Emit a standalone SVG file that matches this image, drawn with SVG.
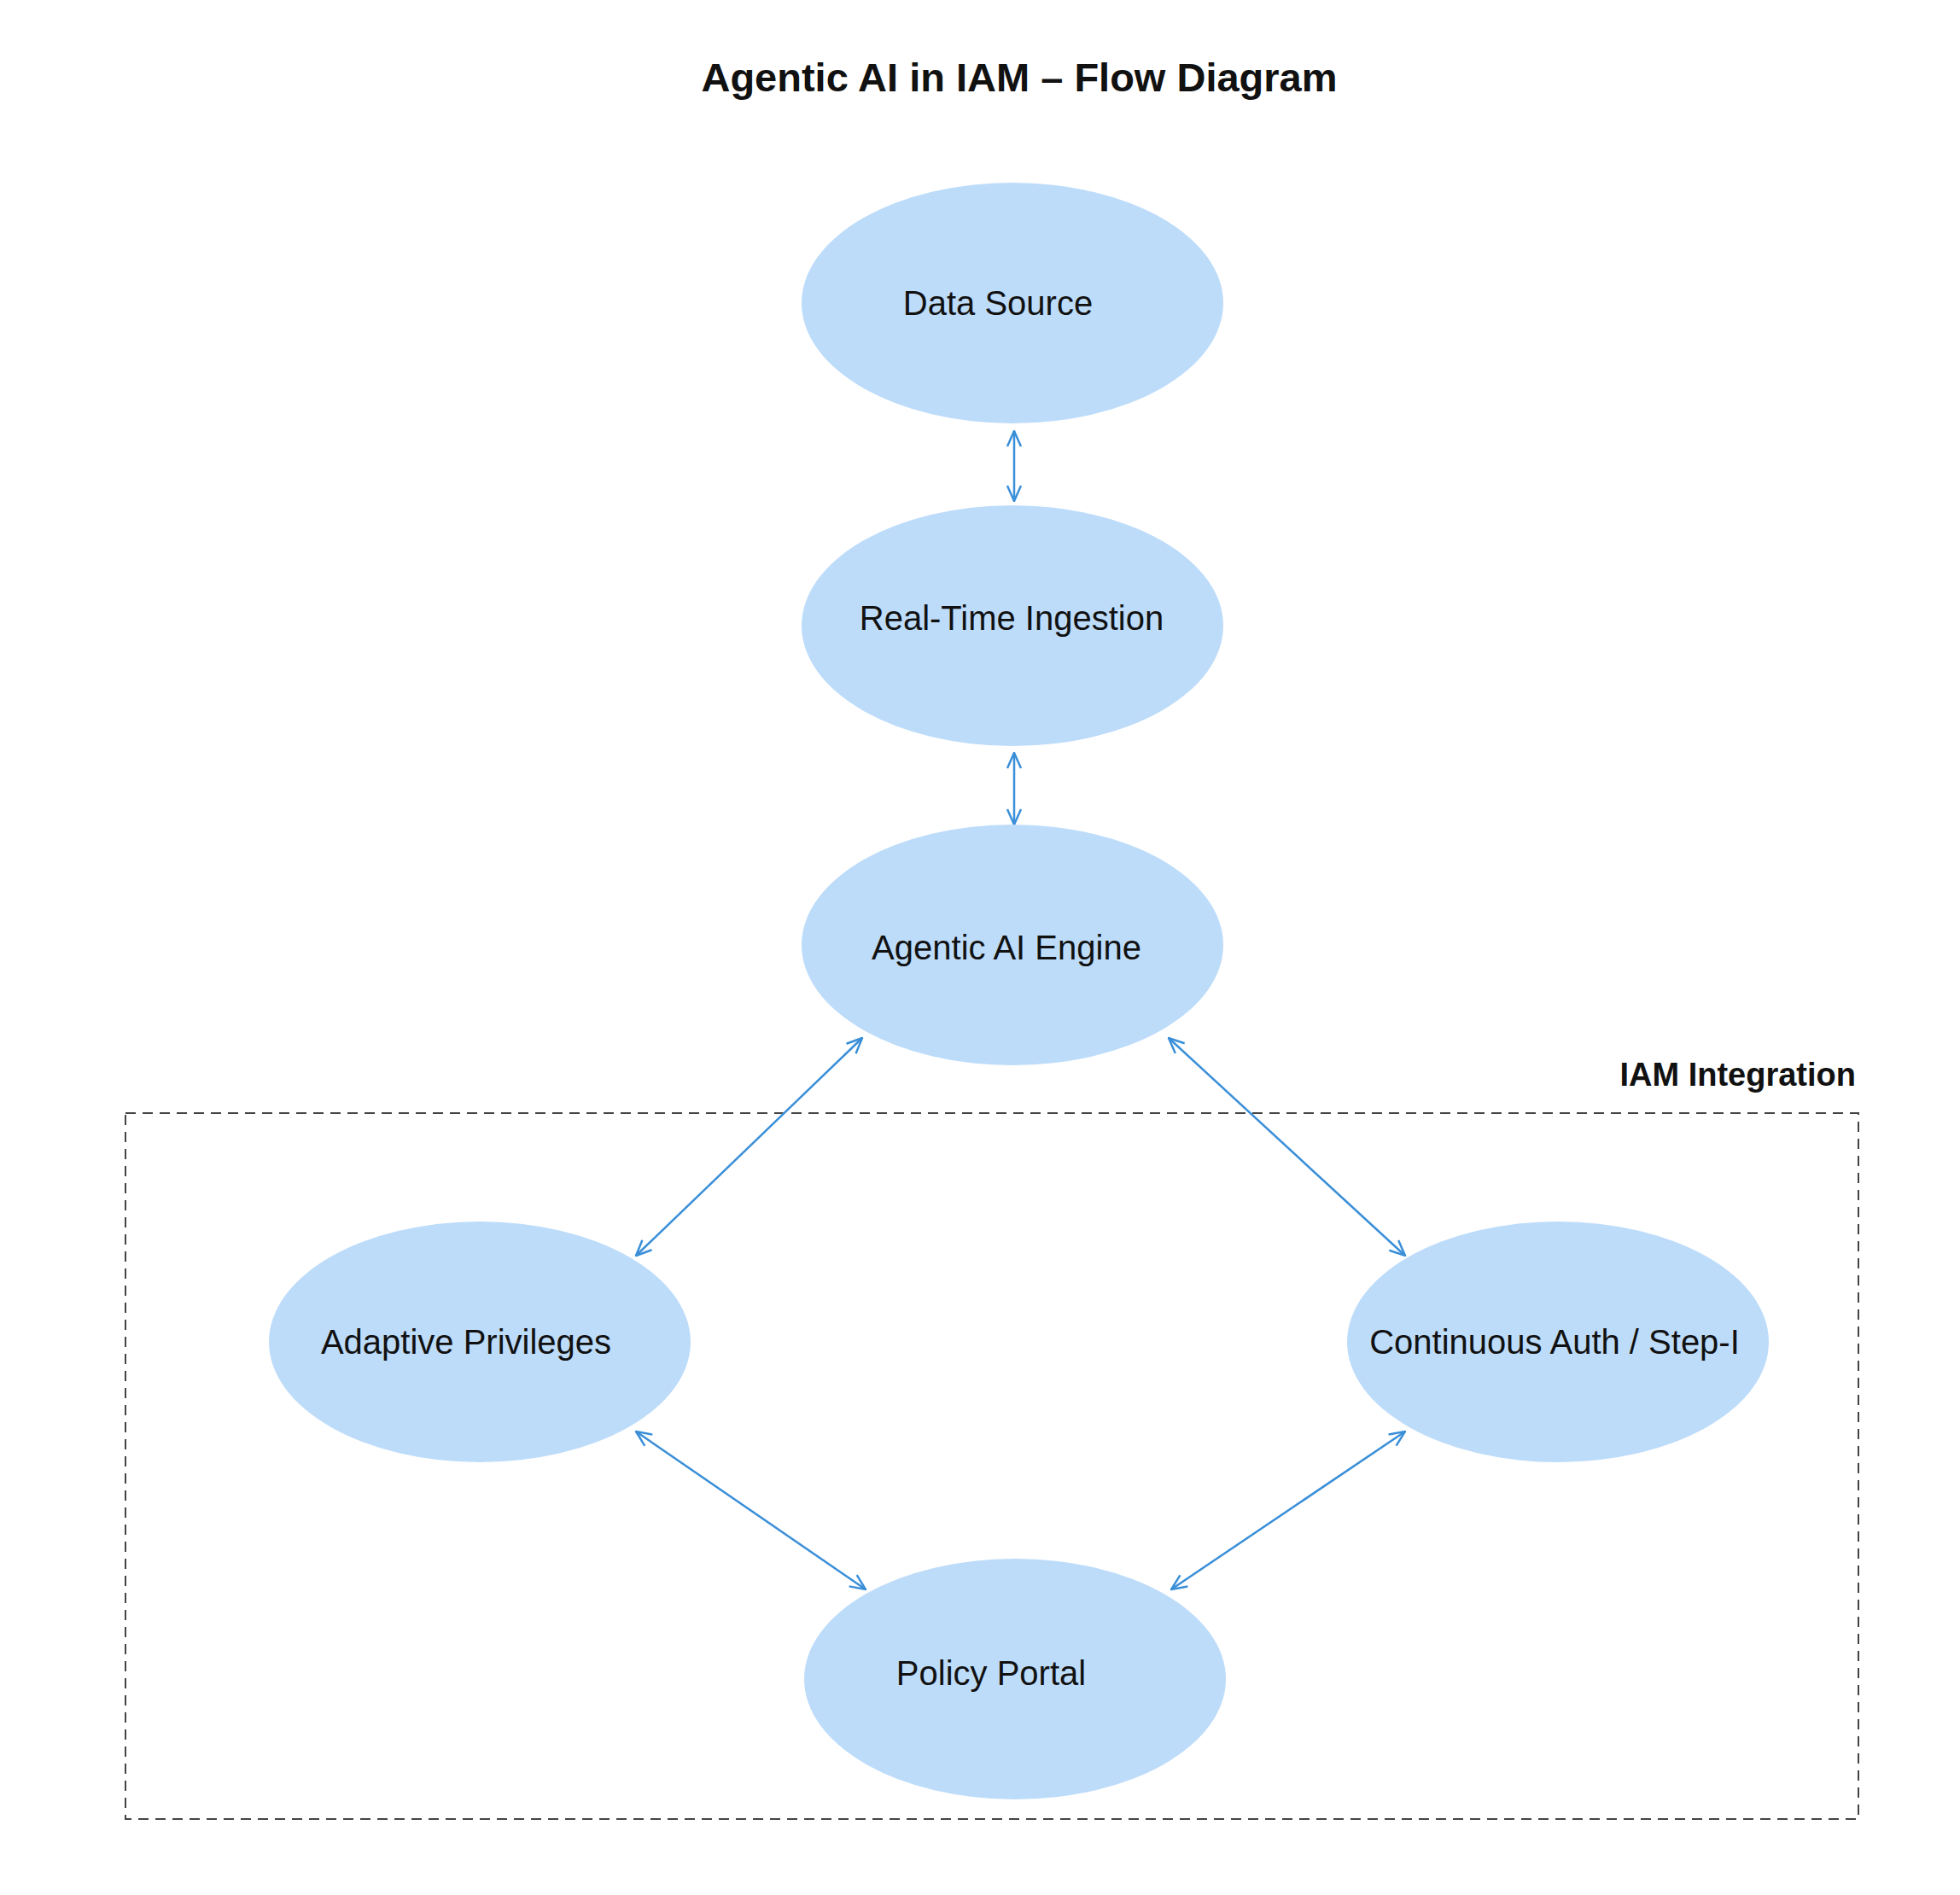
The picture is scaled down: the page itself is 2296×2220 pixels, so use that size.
<svg xmlns="http://www.w3.org/2000/svg" width="2296" height="2220" viewBox="0 0 2296 2220">
<style>
.n{fill:#bddcfa;stroke:none}
.t{font-family:"Liberation Sans",Arial,sans-serif;font-size:40px;fill:#111;text-anchor:middle}
.c{stroke:#3a8fd8;stroke-width:2.5;fill:none;marker-start:url(#a);marker-end:url(#a)}
</style>
<defs>
<marker id="a" viewBox="0 0 20 20" refX="19" refY="10" markerWidth="20" markerHeight="20" markerUnits="userSpaceOnUse" orient="auto-start-reverse">
<path d="M1,2 L19,10 L1,18" fill="none" stroke="#3a8fd8" stroke-width="2.5"/>
</marker>
</defs>
<rect width="2296" height="2220" fill="#fff"/>
<text x="1194" y="107" font-family="Liberation Sans,Arial,sans-serif" font-size="47" font-weight="bold" text-anchor="middle" fill="#111">Agentic AI in IAM – Flow Diagram</text>
<g id="cluster">
<rect x="147" y="1304" width="2030" height="827" fill="none" stroke="#444" stroke-width="2" stroke-dasharray="12,8"/>
<text x="2174" y="1272" font-family="Liberation Sans,Arial,sans-serif" font-size="38" font-weight="bold" text-anchor="end" fill="#111">IAM Integration</text>
</g>
<g id="connectors">
<line class="c" x1="1188" y1="505" x2="1188" y2="587"/>
<line class="c" x1="1188" y1="882" x2="1188" y2="966"/>
<line class="c" x1="1010" y1="1216" x2="745" y2="1471"/>
<line class="c" x1="1369" y1="1216" x2="1646" y2="1471"/>
<line class="c" x1="745" y1="1677" x2="1014" y2="1862"/>
<line class="c" x1="1646" y1="1677" x2="1372" y2="1862"/>
</g>
<g id="data-source"><ellipse class="n" cx="1186" cy="355" rx="247" ry="141"/><text class="t" x="1169" y="369">Data Source</text></g>
<g id="ingestion"><ellipse class="n" cx="1186" cy="733" rx="247" ry="141"/><text class="t" x="1185" y="738">Real-Time Ingestion</text></g>
<g id="engine"><ellipse class="n" cx="1186" cy="1107" rx="247" ry="141"/><text class="t" x="1179" y="1124">Agentic AI Engine</text></g>
<g id="adaptive"><ellipse class="n" cx="562" cy="1572" rx="247" ry="141"/><text class="t" x="546" y="1586">Adaptive Privileges</text></g>
<g id="continuous"><ellipse class="n" cx="1825" cy="1572" rx="247" ry="141"/><text class="t" x="1821" y="1586">Continuous Auth / Step-I</text></g>
<g id="policy"><ellipse class="n" cx="1189" cy="1967" rx="247" ry="141"/><text class="t" x="1161" y="1974">Policy Portal</text></g>
</svg>
